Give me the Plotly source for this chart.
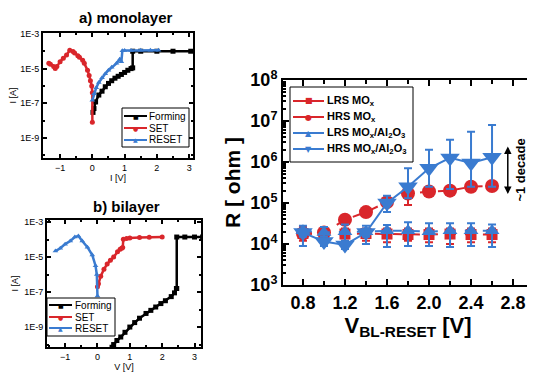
import plotly.graph_objects as go

# page body has an 8px margin: the figure is placed at (8, 8) in the 535x373 window
OFF = 8
W, H = 535 - OFF, 373 - OFF
RED = "#d9262b"
BLUE = "#3a7bd0"

# ---------------- panel a) monolayer ----------------
a_form_v = [0.02, 0.05, 0.1, 0.2, 0.3, 0.4, 0.5, 0.6, 0.7, 0.8, 0.9, 1.0, 1.1, 1.2, 1.25, 1.25, 1.5, 2.0, 2.5, 3.05]
a_form_i = [3e-8, 5e-8, 1.2e-7, 3e-7, 5e-7, 9e-7, 1.4e-6, 2e-6, 2.8e-6, 3.6e-6, 4.6e-6, 6e-6, 8e-6, 1e-5, 1.1e-5, 1e-4, 1e-4, 1e-4, 1e-4, 1e-4]
a_set_v = [-1.35, -1.3, -1.2, -1.15, -1.1, -1.0, -0.9, -0.8, -0.7, -0.6, -0.55, -0.45, -0.4, -0.3, -0.25, -0.15, -0.1, -0.06, -0.02, 0.0, 0.0]
a_set_i = [2e-5, 1.8e-5, 1.3e-5, 1e-5, 1.3e-5, 2.5e-5, 4e-5, 6e-5, 1.15e-4, 9.5e-5, 8e-5, 5.5e-5, 4.5e-5, 3e-5, 2e-5, 8e-6, 4e-6, 2e-6, 1e-6, 4e-7, 8e-9]
a_reset_v = [0.0, 0.05, 0.12, 0.2, 0.3, 0.4, 0.5, 0.6, 0.75, 0.85, 0.9, 0.93, 1.0, 1.2, 1.5, 1.8, 2.05]
a_reset_i = [1.5e-7, 3.5e-7, 8e-7, 1.6e-6, 3e-6, 5e-6, 8e-6, 1.2e-5, 2e-5, 3.5e-5, 2.5e-5, 1.05e-4, 1.1e-4, 1.1e-4, 1.15e-4, 1.15e-4, 1.15e-4]

# ---------------- panel b) bilayer ----------------
b_form_v = [0.45, 0.5, 0.6, 0.72, 0.85, 1.0, 1.15, 1.3, 1.5, 1.65, 1.8, 1.96, 2.1, 2.28, 2.38, 2.44, 2.45, 2.45, 2.7, 3.0, 3.25]
b_form_i = [7e-11, 1e-10, 1.7e-10, 2.7e-10, 5e-10, 1e-9, 1.8e-9, 3.2e-9, 6e-9, 9e-9, 1.4e-8, 2.2e-8, 3.2e-8, 5.5e-8, 9e-8, 1.6e-7, 1.6e-7, 1.4e-4, 1.4e-4, 1.4e-4, 1.4e-4]
b_set_v = [0.0, 0.03, 0.1, 0.2, 0.3, 0.4, 0.5, 0.62, 0.7, 0.75, 0.78, 0.8, 0.9, 1.0, 1.3, 1.6, 2.0]
b_set_i = [2e-7, 3e-7, 8e-7, 2e-6, 4e-6, 6.5e-6, 1e-5, 2e-5, 2.8e-5, 3.2e-5, 3.5e-5, 1.05e-4, 1.15e-4, 1.25e-4, 1.3e-4, 1.35e-4, 1.4e-4]
b_reset_v = [-1.3, -1.15, -1.0, -0.84, -0.7, -0.59, -0.47, -0.31, -0.16, -0.06, -0.02, 0.0]
b_reset_i = [2.2e-5, 3.2e-5, 5.5e-5, 8.3e-5, 1.4e-4, 1.6e-4, 8.3e-5, 3.7e-5, 1.3e-5, 3.2e-6, 1e-6, 6e-8]

# ---------------- panel c) resistance vs V_BL-RESET ----------------
v_reset = [0.8, 1.0, 1.2, 1.4, 1.6, 1.8, 2.0, 2.2, 2.4, 2.6]
lrs_mox = [1.8e4, 1.7e4, 1.75e4, 1.8e4, 1.75e4, 1.7e4, 1.7e4, 1.75e4, 1.7e4, 1.7e4]
lrs_mox_hi = [2.6e4, 2.4e4, 2.4e4, 2.4e4, 2.4e4, 2.4e4, 2.4e4, 2.4e4, 2.4e4, 2.4e4]
lrs_mox_lo = [1.2e4, 1.2e4, 1.2e4, 1.2e4, 1.1e4, 1.2e4, 1.1e4, 1.0e4, 1.1e4, 1.1e4]
hrs_mox = [1.8e4, 1.9e4, 3.9e4, 6e4, 1.05e5, 1.7e5, 1.9e5, 2e5, 2.5e5, 2.6e5]
hrs_mox_hi = [2.2e4, 2.3e4, 4.5e4, 7e4, 1.2e5, 2.0e5, 2.2e5, 2.3e5, 2.9e5, 3.0e5]
hrs_mox_lo = [1.5e4, 1.5e4, 3.4e4, 5.2e4, 9e4, 9e4, 1.6e5, 1.7e5, 2.1e5, 2.2e5]
lrs_al = [2.1e4, 1.9e4, 2.0e4, 2.0e4, 2.1e4, 2.1e4, 2.0e4, 2.1e4, 2.1e4, 2.1e4]
lrs_al_hi = [2.8e4, 2.6e4, 3.0e4, 2.8e4, 2.9e4, 3.4e4, 3.2e4, 3.2e4, 3.2e4, 3.0e4]
lrs_al_lo = [9e3, 1.0e4, 1.0e4, 1.0e4, 8.5e3, 9e3, 9e3, 8.5e3, 9e3, 8.5e3]
hrs_al = [1.9e4, 1.15e4, 9.5e3, 1.9e4, 1e5, 2.5e5, 7e5, 1.26e6, 9.5e5, 1.3e6]
hrs_al_hi = [2.4e4, 1.5e4, 1.2e4, 2.4e4, 1.5e5, 7e5, 2e6, 3.5e6, 5.5e6, 8e6]
hrs_al_lo = [1.5e4, 9e3, 7.5e3, 1.5e4, 6e4, 1.3e5, 2.5e5, 2.2e5, 2.5e5, 2.5e5]

x_ticks_c = [0.8, 1.2, 1.6, 2.0, 2.4, 2.8]
y_exp_c = [3, 4, 5, 6, 7, 8]
y_ticks_ab = [1e-3, 1e-5, 1e-7, 1e-9]
y_text_ab = ["1E-3", "1E-5", "1E-7", "1E-9"]
x_ticks_ab = [-1, 0, 1, 2, 3]

iv_names = ["Forming", "SET", "RESET"]
iv_colors = ["black", RED, BLUE]
iv_symbols = ["square", "circle", "triangle-up"]
r_names = ["<b>LRS MO<sub>x</sub></b>", "<b>HRS MO<sub>x</sub></b>",
           "<b>LRS MO<sub>x</sub>/Al<sub>2</sub>O<sub>3</sub></b>",
           "<b>HRS MO<sub>x</sub>/Al<sub>2</sub>O<sub>3</sub></b>"]
r_colors = [RED, RED, BLUE, BLUE]
r_symbols = ["square", "circle", "triangle-up", "triangle-down"]
GLYPH = {"square": "\u25A0", "circle": "\u25CF", "triangle-up": "\u25B2", "triangle-down": "\u25BC"}


def px(x):
    return (x - OFF) / W


def py(y):
    return (H - (y - OFF)) / H


def dom_x(p0, p1):
    return [px(p0), px(p1)]


def dom_y(top, bot):
    return [py(bot), py(top)]


fig = go.Figure()
small = dict(family="Liberation Sans", size=9, color="black")


def add_iv(v, i, k, xa, ya):
    fig.add_trace(go.Scatter(x=v, y=i, mode="lines+markers", name=iv_names[k],
                             line=dict(color=iv_colors[k], width=2.5),
                             marker=dict(color=iv_colors[k], symbol=iv_symbols[k], size=5),
                             xaxis=xa, yaxis=ya, showlegend=False))


add_iv(a_form_v, a_form_i, 0, "x", "y")
add_iv(a_set_v, a_set_i, 1, "x", "y")
add_iv(a_reset_v, a_reset_i, 2, "x", "y")
add_iv(b_form_v, b_form_i, 0, "x2", "y2")
add_iv(b_set_v, b_set_i, 1, "x2", "y2")
add_iv(b_reset_v, b_reset_i, 2, "x2", "y2")


def add_r(vals, hi, lo, k, size, dash):
    fig.add_trace(go.Scatter(
        x=v_reset, y=vals, mode="lines+markers", name=r_names[k],
        line=dict(color=r_colors[k], width=2, dash=dash),
        marker=dict(color=r_colors[k], symbol=r_symbols[k], size=size),
        error_y=dict(type="data", symmetric=False,
                     array=[h - v for h, v in zip(hi, vals)],
                     arrayminus=[v - l for v, l in zip(vals, lo)],
                     color=r_colors[k], thickness=2, width=4),
        xaxis="x3", yaxis="y3", showlegend=False))


add_r(lrs_mox, lrs_mox_hi, lrs_mox_lo, 0, 11, "dash")
add_r(hrs_mox, hrs_mox_hi, hrs_mox_lo, 1, 14, "dash")
add_r(lrs_al, lrs_al_hi, lrs_al_lo, 2, 13, "dash")
add_r(hrs_al, hrs_al_hi, hrs_al_lo, 3, 17, "solid")

frame = dict(showline=True, linecolor="black", linewidth=2, mirror="ticks",
             ticks="inside", tickcolor="black", showgrid=False, zeroline=False,
             automargin=False)

fig.update_layout(
    width=W, height=H, margin=dict(l=0, r=0, t=0, b=0),
    paper_bgcolor="white", plot_bgcolor="white",
    font=dict(family="Liberation Sans", color="black"),
    showlegend=False,
    xaxis=dict(domain=dom_x(43, 193), range=[-1.53, 3.12], tickvals=x_ticks_ab,
               ticklen=4, tickwidth=1.5, tickfont=small,
               minor=dict(dtick=0.5, ticks="inside", ticklen=2),
               title=dict(text="I [V]", font=small, standoff=2), anchor="y", **frame),
    yaxis=dict(domain=dom_y(33, 158), type="log", range=[-10.15, -2.95],
               tickvals=y_ticks_ab, ticktext=y_text_ab, ticklen=4, tickwidth=1.5,
               tickfont=small, minor=dict(tickvals=[1e-4, 1e-6, 1e-8, 1e-10], ticks="inside", ticklen=2),
               title=dict(text="I [A]", font=small, standoff=4), anchor="x", **frame),
    xaxis2=dict(domain=dom_x(47, 201), range=[-1.56, 3.2], tickvals=x_ticks_ab,
                ticklen=4, tickwidth=1.5, tickfont=small,
                minor=dict(dtick=0.5, ticks="inside", ticklen=2),
                title=dict(text="V [V]", font=small, standoff=2), anchor="y2", **frame),
    yaxis2=dict(domain=dom_y(220, 347), type="log", range=[-10.14, -2.88],
                tickvals=y_ticks_ab, ticktext=y_text_ab, ticklen=4, tickwidth=1.5,
                tickfont=small, minor=dict(tickvals=[1e-4, 1e-6, 1e-8, 1e-10], ticks="inside", ticklen=2),
                title=dict(text="I [A]", font=small, standoff=4), anchor="x2", **frame),
    xaxis3=dict(domain=dom_x(283, 533), range=[0.61, 2.99], tickvals=x_ticks_c,
                ticktext=["<b>%.1f</b>" % t for t in x_ticks_c], ticklen=6, tickwidth=2,
                tickfont=dict(family="Liberation Sans", size=18, color="black"),
                minor=dict(dtick=0.2, tick0=0.8, ticks="inside", ticklen=4, tickwidth=2),
                title=dict(text="<b>V<sub>BL-RESET</sub> [V]</b>",
                           font=dict(family="Liberation Sans", size=22, color="black"), standoff=0),
                anchor="y3", **frame),
    yaxis3=dict(domain=dom_y(80, 285), type="log", range=[3, 8],
                tickvals=[10 ** e for e in y_exp_c],
                ticktext=["<b>10<sup>%d</sup></b>" % e for e in y_exp_c],
                ticklen=6, tickwidth=2,
                tickfont=dict(family="Liberation Sans", size=18, color="black"),
                minor=dict(dtick="D1", ticks="inside", ticklen=3, tickwidth=1.5),
                title=dict(text="<b>R [ ohm ]</b>",
                           font=dict(family="Liberation Sans", size=21, color="black"), standoff=4),
                anchor="x3", **frame),
)


# ---------- hand-drawn legends (real text + glyphs) ----------
def draw_legend(box, rows, names, colors, symbols, line_x, text_x, font_size, glyph_size):
    x0, y0, x1, y1 = box
    fig.add_shape(type="rect", xref="paper", yref="paper",
                  x0=px(x0), x1=px(x1), y0=py(y1), y1=py(y0),
                  line=dict(color="black", width=1), fillcolor="white", layer="above")
    for ry, nm, col, sym in zip(rows, names, colors, symbols):
        fig.add_shape(type="line", xref="paper", yref="paper",
                      x0=px(line_x[0]), x1=px(line_x[1]), y0=py(ry), y1=py(ry),
                      line=dict(color=col, width=2), layer="above")
        fig.add_annotation(text=GLYPH[sym], xref="paper", yref="paper",
                           x=px((line_x[0] + line_x[1]) / 2), y=py(ry),
                           xanchor="center", yanchor="middle", showarrow=False,
                           font=dict(family="DejaVu Sans", size=glyph_size, color=col))
        fig.add_annotation(text=nm, xref="paper", yref="paper", x=px(text_x), y=py(ry),
                           xanchor="left", yanchor="middle", showarrow=False,
                           font=dict(family="Liberation Sans", size=font_size, color="black"))


draw_legend((122, 108, 189, 147), [116, 128, 140], iv_names, iv_colors, iv_symbols,
            (124, 147), 147, 10, 6)
draw_legend((47, 298, 115, 336), [305, 317, 328], iv_names, iv_colors, iv_symbols,
            (49, 72), 73, 10, 6)
draw_legend((290, 87, 413, 162), [101, 117, 133, 149], r_names, r_colors, r_symbols,
            (293, 324), 325, 11, 8)

fig.add_annotation(text="<b>a) monolayer</b>", xref="paper", yref="paper",
                   x=px(126), y=py(17), xanchor="center", yanchor="middle", showarrow=False,
                   font=dict(family="Liberation Sans", size=15, color="black"))
fig.add_annotation(text="<b>b) bilayer</b>", xref="paper", yref="paper",
                   x=px(126), y=py(206), xanchor="center", yanchor="middle", showarrow=False,
                   font=dict(family="Liberation Sans", size=15, color="black"))

# ~1 decade double arrow
fig.add_annotation(x=2.75, y=6.38, ax=2.75, ay=5.18, xref="x3", yref="y3",
                   axref="x3", ayref="y3", text="", showarrow=True,
                   arrowhead=2, arrowside="end+start", arrowwidth=1.5, arrowcolor="black")
fig.add_annotation(x=2.87, y=5.8, xref="x3", yref="y3", text="<b>~1 decade</b>",
                   textangle=-90, showarrow=False, xanchor="center", yanchor="middle",
                   font=dict(family="Liberation Sans", size=13, color="black"))

fig.write_html("out.html")
